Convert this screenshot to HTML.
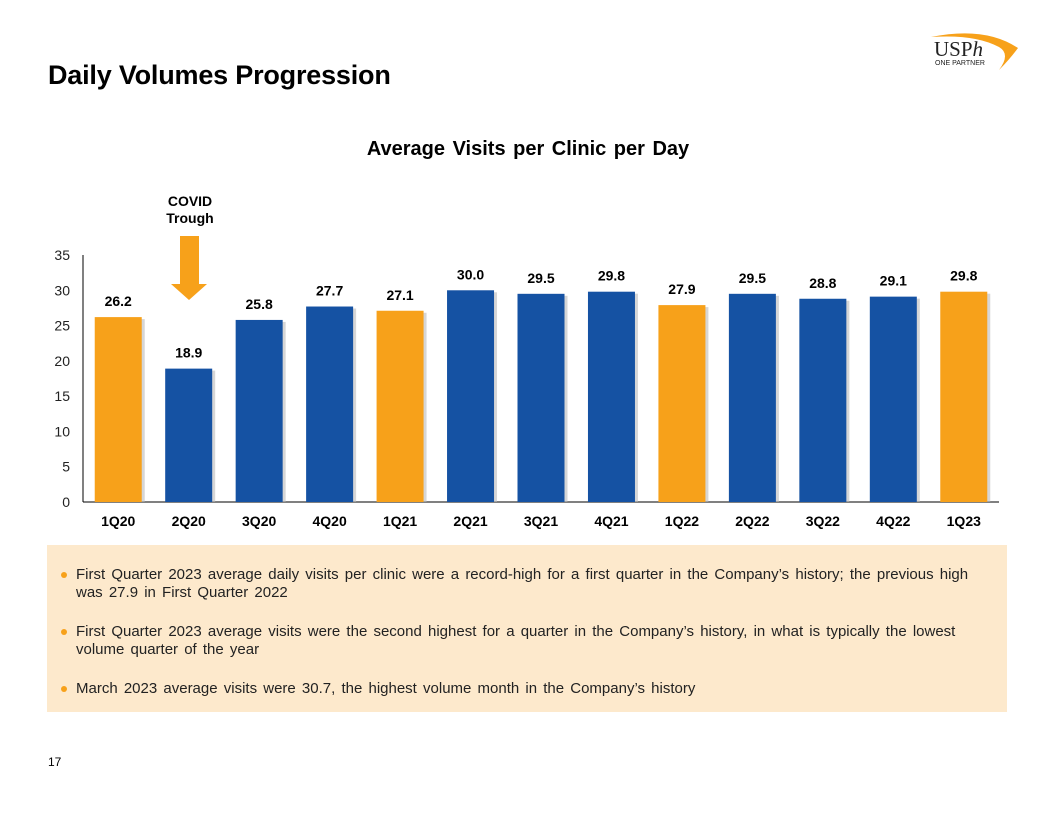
<!DOCTYPE html>
<html><head><meta charset="utf-8"><style>
body{margin:0;width:1056px;height:816px;background:#fff;font-family:"Liberation Sans",Arial,sans-serif;position:relative;overflow:hidden}
.abs{position:absolute}
#title{left:48px;top:60px;font-size:27px;font-weight:bold;color:#000;letter-spacing:-0.2px}
#ctitle{left:0;width:1056px;top:138px;text-align:center;font-size:20px;font-weight:bold;word-spacing:2px;padding-left:0}
#covid{left:140px;width:100px;top:193px;text-align:center;font-size:14px;font-weight:bold;line-height:17px}
#box{left:47px;top:545px;width:960px;height:167px;background:#fde9cc}
#box ul{margin:0;padding:0;list-style:none;position:absolute;left:14px;top:21px;width:940px}
#box li{position:relative;padding-left:15px;font-size:15px;line-height:18px;color:#222;margin-bottom:21px;white-space:nowrap;word-spacing:2px}
#box li::before{content:"";position:absolute;left:0;top:6px;width:6px;height:6px;border-radius:50%;background:#f7a11a}
#pg{left:48px;top:755px;font-size:12px}
</style></head><body>
<div class="abs" id="title">Daily Volumes Progression</div>
<svg class="abs" style="left:925px;top:28px" width="100" height="45">
<path d="M6 9 Q60 -2 93 20 Q84 32 74 42 Q86 26 74 19 Q50 6 6 9Z" fill="#f7a11a"/>
<text x="9" y="28" font-family="Liberation Serif,serif" font-size="21" fill="#222">USP<tspan font-style="italic">h</tspan></text>
<text x="10" y="37" font-size="7" fill="#222">ONE PARTNER</text>
</svg>
<div class="abs" id="ctitle">Average Visits per Clinic per Day</div>
<div class="abs" id="covid">COVID<br>Trough</div>
<svg class="abs" style="left:0;top:0" width="1056" height="816" id="chart">
<polygon points="180,236 199,236 199,284 207,284 189,300 171,284 180,284" fill="#f7a11a"/>
</svg>
<div class="abs" id="box"><ul>
<li>First Quarter 2023 average daily visits per clinic were a record-high for a first quarter in the Company’s history; the previous high<br>was 27.9 in First Quarter 2022</li>
<li>First Quarter 2023 average visits were the second highest for a quarter in the Company’s history, in what is typically the lowest<br>volume quarter of the year</li>
<li>March 2023 average visits were 30.7, the highest volume month in the Company’s history</li>
</ul></div>
<div class="abs" id="pg">17</div>
<script>
const categories=["1Q20","2Q20","3Q20","4Q20","1Q21","2Q21","3Q21","4Q21","1Q22","2Q22","3Q22","4Q22","1Q23"];
const values=[26.2,18.9,25.8,27.7,27.1,30.0,29.5,29.8,27.9,29.5,28.8,29.1,29.8];
const highlight=[true,false,false,false,true,false,false,false,true,false,false,false,true];
const yTicks=[0,5,10,15,20,25,30,35];
const NS="http://www.w3.org/2000/svg";
const svg=document.getElementById('chart');
const x0=83,x1=999,yb=502,yt=255,ymax=35;
const step=(x1-x0)/categories.length,bw=47;
const y=v=>yb-(v/ymax)*(yb-yt);
const xc=i=>x0+step*(i+0.5);
function mk(t,a){const e=document.createElementNS(NS,t);for(const k in a)e.setAttribute(k,a[k]);svg.appendChild(e);return e;}
const ax=mk('line',{x1:x0,y1:yt,x2:x0,y2:yb,stroke:'#000','stroke-width':1});


const bx=mk('line',{x1:x0,y1:yb,x2:x1,y2:yb,stroke:'#000','stroke-width':1});


yTicks.forEach(t=>{const e=mk('text',{x:70,y:y(t)+5,'text-anchor':'end','font-size':14,fill:'#222'});e.textContent=t;

});
values.forEach((v,i)=>{
const cx=xc(i);
const sh=mk('rect',{x:cx-bw/2+3,y:y(v)+2,width:bw,height:yb-y(v)-2,fill:'#bbb',opacity:0.6});


const r=mk('rect',{x:cx-bw/2,y:y(v),width:bw,height:yb-y(v),fill:highlight[i]?'#f7a11a':'#1552a3'});


const l=mk('text',{x:cx,y:y(v)-11,'text-anchor':'middle','font-size':14,'font-weight':'bold',fill:'#000'});l.textContent=v.toFixed(1);


const c=mk('text',{x:cx,y:526,'text-anchor':'middle','font-size':14,'font-weight':'bold',fill:'#000'});c.textContent=categories[i];


});
</script>
</body></html>
